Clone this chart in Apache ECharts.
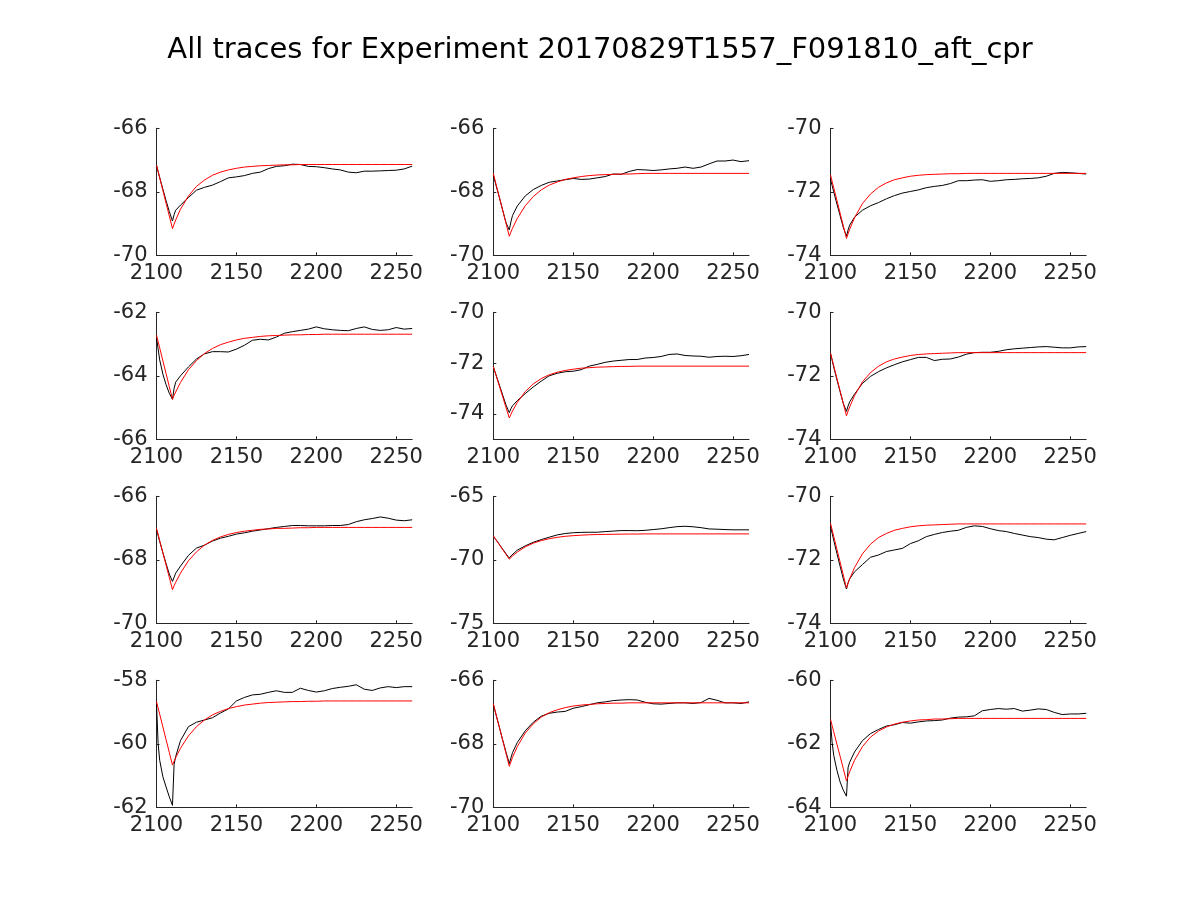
<!DOCTYPE html>
<html>
<head>
<meta charset="utf-8">
<script src="https://cdn.jsdelivr.net/npm/echarts@6/dist/echarts.min.js"></script>
<style>html,body{margin:0;padding:0;background:#fff;}#c{width:1200px;height:900px;}</style>
</head>
<body>
<div id="c"></div>
<script>
const titleText = "All traces for Experiment 20170829T1557_F091810_aft_cpr";
const xs = [2100, 2101, 2102, 2104, 2106, 2108, 2110, 2111, 2112, 2115, 2120, 2125, 2130, 2135, 2140, 2145, 2150, 2155, 2160, 2165, 2170, 2175, 2180, 2185, 2190, 2195, 2200, 2205, 2210, 2215, 2220, 2225, 2230, 2235, 2240, 2245, 2250, 2255, 2260];
const xTicks = [2100, 2150, 2200, 2250];

const black1 = [-67.16,-67.36,-67.55,-67.92,-68.28,-68.62,-68.92,-68.72,-68.58,-68.42,-68.18,-67.95,-67.86,-67.79,-67.68,-67.56,-67.53,-67.49,-67.42,-67.38,-67.27,-67.20,-67.18,-67.13,-67.14,-67.20,-67.21,-67.24,-67.28,-67.31,-67.38,-67.40,-67.35,-67.35,-67.34,-67.33,-67.32,-67.28,-67.19];
const red1 = [-67.16,-67.36,-67.56,-67.96,-68.36,-68.76,-69.16,-69.02,-68.89,-68.55,-68.13,-67.83,-67.63,-67.48,-67.38,-67.31,-67.26,-67.22,-67.20,-67.18,-67.17,-67.16,-67.15,-67.15,-67.14,-67.14,-67.14,-67.14,-67.14,-67.14,-67.14,-67.14,-67.14,-67.14,-67.14,-67.14,-67.14,-67.14,-67.14];

const black2 = [-67.47,-67.66,-67.85,-68.22,-68.60,-68.98,-69.20,-68.95,-68.75,-68.45,-68.13,-67.93,-67.80,-67.70,-67.66,-67.62,-67.58,-67.61,-67.60,-67.56,-67.52,-67.44,-67.45,-67.36,-67.30,-67.31,-67.33,-67.31,-67.28,-67.26,-67.22,-67.26,-67.22,-67.12,-67.03,-67.03,-67.00,-67.05,-67.02];
const red2 = [-67.42,-67.62,-67.82,-68.21,-68.61,-69.00,-69.40,-69.27,-69.15,-68.84,-68.44,-68.15,-67.94,-67.79,-67.69,-67.61,-67.56,-67.52,-67.49,-67.47,-67.46,-67.45,-67.44,-67.44,-67.43,-67.42,-67.42,-67.42,-67.42,-67.42,-67.42,-67.42,-67.42,-67.42,-67.42,-67.42,-67.42,-67.42,-67.42];

const black3 = [-71.60,-71.80,-72.00,-72.38,-72.75,-73.12,-73.40,-73.20,-73.05,-72.80,-72.58,-72.44,-72.34,-72.22,-72.12,-72.04,-71.99,-71.94,-71.87,-71.83,-71.80,-71.74,-71.65,-71.65,-71.63,-71.62,-71.67,-71.65,-71.62,-71.61,-71.59,-71.58,-71.56,-71.51,-71.42,-71.39,-71.40,-71.42,-71.44];
const red3 = [-71.47,-71.67,-71.87,-72.27,-72.67,-73.07,-73.47,-73.32,-73.18,-72.82,-72.37,-72.07,-71.86,-71.72,-71.62,-71.56,-71.51,-71.48,-71.46,-71.45,-71.44,-71.43,-71.43,-71.42,-71.42,-71.42,-71.42,-71.42,-71.42,-71.42,-71.42,-71.42,-71.42,-71.42,-71.42,-71.42,-71.42,-71.42,-71.42];

const black4 = [-62.80,-63.15,-63.50,-63.95,-64.28,-64.55,-64.74,-64.40,-64.20,-64.00,-63.72,-63.47,-63.31,-63.24,-63.24,-63.25,-63.16,-63.04,-62.88,-62.85,-62.87,-62.78,-62.66,-62.61,-62.57,-62.53,-62.46,-62.52,-62.55,-62.57,-62.58,-62.51,-62.46,-62.54,-62.57,-62.55,-62.48,-62.53,-62.51];
const red4 = [-62.72,-62.92,-63.12,-63.53,-63.93,-64.34,-64.74,-64.62,-64.51,-64.21,-63.81,-63.52,-63.30,-63.14,-63.02,-62.94,-62.87,-62.82,-62.79,-62.76,-62.74,-62.73,-62.72,-62.71,-62.71,-62.70,-62.70,-62.69,-62.69,-62.69,-62.69,-62.69,-62.69,-62.69,-62.69,-62.69,-62.69,-62.69,-62.69];

const black5 = [-72.14,-72.33,-72.52,-72.90,-73.28,-73.66,-73.95,-73.80,-73.68,-73.48,-73.20,-72.94,-72.71,-72.50,-72.40,-72.34,-72.32,-72.26,-72.12,-72.05,-71.97,-71.92,-71.89,-71.86,-71.86,-71.80,-71.78,-71.74,-71.66,-71.64,-71.70,-71.72,-71.73,-71.77,-71.74,-71.73,-71.74,-71.71,-71.66];
const red5 = [-72.14,-72.34,-72.54,-72.95,-73.35,-73.76,-74.16,-74.02,-73.89,-73.55,-73.12,-72.82,-72.61,-72.46,-72.36,-72.29,-72.24,-72.20,-72.18,-72.16,-72.15,-72.14,-72.13,-72.13,-72.12,-72.12,-72.12,-72.12,-72.12,-72.12,-72.12,-72.12,-72.12,-72.12,-72.12,-72.12,-72.12,-72.12,-72.12];

const black6 = [-71.29,-71.50,-71.72,-72.12,-72.50,-72.87,-73.12,-72.95,-72.82,-72.58,-72.24,-72.02,-71.87,-71.75,-71.65,-71.56,-71.49,-71.42,-71.42,-71.52,-71.48,-71.47,-71.41,-71.32,-71.27,-71.26,-71.26,-71.23,-71.18,-71.15,-71.13,-71.11,-71.09,-71.08,-71.10,-71.12,-71.12,-71.09,-71.08];
const red6 = [-71.29,-71.49,-71.68,-72.08,-72.47,-72.87,-73.26,-73.11,-72.98,-72.63,-72.19,-71.90,-71.70,-71.56,-71.47,-71.41,-71.36,-71.33,-71.31,-71.30,-71.29,-71.28,-71.27,-71.27,-71.27,-71.27,-71.27,-71.27,-71.27,-71.27,-71.27,-71.27,-71.27,-71.27,-71.27,-71.27,-71.27,-71.27,-71.27];

const black7 = [-67.05,-67.23,-67.42,-67.78,-68.12,-68.45,-68.68,-68.55,-68.42,-68.20,-67.86,-67.63,-67.54,-67.41,-67.32,-67.26,-67.19,-67.15,-67.10,-67.06,-67.02,-66.98,-66.95,-66.92,-66.92,-66.93,-66.93,-66.93,-66.92,-66.92,-66.89,-66.80,-66.74,-66.70,-66.65,-66.69,-66.75,-66.77,-66.74];
const red7 = [-67.01,-67.20,-67.40,-67.78,-68.17,-68.55,-68.94,-68.82,-68.71,-68.42,-68.03,-67.75,-67.54,-67.39,-67.28,-67.20,-67.14,-67.10,-67.07,-67.04,-67.03,-67.01,-67.01,-67.00,-66.99,-66.99,-66.98,-66.98,-66.98,-66.98,-66.98,-66.98,-66.98,-66.98,-66.98,-66.98,-66.98,-66.98,-66.98];

const black8 = [-68.12,-68.30,-68.47,-68.82,-69.18,-69.53,-69.88,-69.70,-69.55,-69.24,-68.90,-68.62,-68.41,-68.22,-68.04,-67.93,-67.87,-67.84,-67.83,-67.83,-67.78,-67.74,-67.70,-67.70,-67.71,-67.68,-67.62,-67.56,-67.47,-67.39,-67.36,-67.40,-67.47,-67.57,-67.59,-67.62,-67.64,-67.64,-67.64];
const red8 = [-68.12,-68.30,-68.49,-68.85,-69.22,-69.58,-69.95,-69.82,-69.70,-69.39,-68.98,-68.69,-68.49,-68.34,-68.23,-68.15,-68.10,-68.06,-68.03,-68.01,-68.00,-67.99,-67.98,-67.97,-67.97,-67.96,-67.96,-67.96,-67.96,-67.96,-67.96,-67.96,-67.96,-67.96,-67.96,-67.96,-67.96,-67.96,-67.96];

const black9 = [-70.95,-71.16,-71.38,-71.80,-72.20,-72.60,-72.92,-72.72,-72.60,-72.38,-72.15,-71.92,-71.85,-71.74,-71.69,-71.64,-71.49,-71.40,-71.27,-71.20,-71.14,-71.10,-71.07,-70.98,-70.93,-70.95,-71.02,-71.08,-71.11,-71.17,-71.22,-71.27,-71.30,-71.35,-71.37,-71.30,-71.23,-71.17,-71.11];
const red9 = [-70.85,-71.05,-71.26,-71.67,-72.07,-72.48,-72.89,-72.74,-72.60,-72.25,-71.81,-71.51,-71.30,-71.17,-71.07,-71.01,-70.96,-70.93,-70.91,-70.90,-70.89,-70.88,-70.87,-70.87,-70.87,-70.87,-70.87,-70.87,-70.87,-70.87,-70.87,-70.87,-70.87,-70.87,-70.87,-70.87,-70.87,-70.87,-70.87];

const black10 = [-58.73,-59.99,-60.52,-61.04,-61.36,-61.67,-61.94,-60.65,-60.40,-59.90,-59.46,-59.32,-59.25,-59.18,-59.03,-58.90,-58.65,-58.54,-58.46,-58.44,-58.38,-58.33,-58.38,-58.38,-58.25,-58.32,-58.37,-58.33,-58.26,-58.22,-58.19,-58.14,-58.28,-58.32,-58.24,-58.20,-58.23,-58.20,-58.20];
const red10 = [-58.67,-58.87,-59.07,-59.47,-59.87,-60.27,-60.67,-60.55,-60.44,-60.14,-59.75,-59.46,-59.25,-59.09,-58.98,-58.89,-58.83,-58.78,-58.75,-58.72,-58.70,-58.69,-58.68,-58.67,-58.67,-58.66,-58.66,-58.65,-58.65,-58.65,-58.65,-58.65,-58.65,-58.65,-58.65,-58.65,-58.65,-58.65,-58.65];

const black11 = [-66.75,-66.95,-67.14,-67.52,-67.90,-68.27,-68.62,-68.45,-68.28,-67.96,-67.59,-67.32,-67.13,-67.04,-67.00,-66.98,-66.88,-66.83,-66.77,-66.71,-66.68,-66.64,-66.62,-66.61,-66.62,-66.69,-66.74,-66.75,-66.73,-66.71,-66.71,-66.73,-66.70,-66.57,-66.63,-66.71,-66.71,-66.73,-66.68];
const red11 = [-66.73,-66.93,-67.13,-67.52,-67.92,-68.31,-68.71,-68.57,-68.43,-68.09,-67.66,-67.37,-67.16,-67.02,-66.93,-66.86,-66.81,-66.78,-66.76,-66.74,-66.73,-66.72,-66.72,-66.71,-66.71,-66.71,-66.71,-66.71,-66.71,-66.71,-66.71,-66.71,-66.71,-66.71,-66.71,-66.71,-66.71,-66.71,-66.71];

const black12 = [-61.31,-61.95,-62.36,-62.83,-63.20,-63.46,-63.65,-62.75,-62.58,-62.26,-61.90,-61.68,-61.55,-61.44,-61.40,-61.33,-61.35,-61.31,-61.28,-61.27,-61.25,-61.19,-61.16,-61.15,-61.12,-60.96,-60.92,-60.89,-60.91,-60.89,-60.97,-60.94,-60.90,-60.92,-61.01,-61.08,-61.06,-61.06,-61.04];
const red12 = [-61.23,-61.42,-61.62,-62.01,-62.39,-62.78,-63.17,-63.02,-62.88,-62.52,-62.09,-61.79,-61.60,-61.47,-61.38,-61.32,-61.28,-61.25,-61.24,-61.22,-61.22,-61.21,-61.20,-61.20,-61.20,-61.20,-61.20,-61.20,-61.20,-61.20,-61.20,-61.20,-61.20,-61.20,-61.20,-61.20,-61.20,-61.20,-61.20];

const yMins = [-70, -70, -74, -66, -75, -74, -70, -75, -74, -62, -70, -64];
const yMaxs = [-66, -66, -70, -62, -70, -70, -66, -65, -70, -58, -66, -60];
const yTicks = [
  [-70, -68, -66], [-70, -68, -66], [-74, -72, -70],
  [-66, -64, -62], [-74, -72, -70], [-74, -72, -70],
  [-70, -68, -66], [-75, -70, -65], [-74, -72, -70],
  [-62, -60, -58], [-70, -68, -66], [-64, -62, -60]
];

const blacks = [black1, black2, black3, black4, black5, black6, black7, black8, black9, black10, black11, black12];
const reds = [red1, red2, red3, red4, red5, red6, red7, red8, red9, red10, red11, red12];

const colLefts = [156.5, 493.3, 830.5];
const rowTops = [128.3, 312.3, 496.3, 680.3];
const gw = 255.7, gh = 127;
const axisColor = '#262626';
const fontFam = 'DejaVu Sans';
const fs = 21;
const plain = v => String(v);

const grids = [], xAxes = [], yAxes = [], series = [];
for (let i = 0; i < 12; i++) {
  const r = Math.floor(i / 3), c = i % 3;
  grids.push({left: colLefts[c], top: rowTops[r], width: gw, height: gh, containLabel: false});
  xAxes.push({
    type: 'value', gridIndex: i, min: 2100, max: 2260,
    axisLine: {show: true, onZero: false, lineStyle: {color: axisColor, width: 1}},
    axisTick: {show: true, inside: true, length: 3, customValues: xTicks, lineStyle: {color: axisColor}},
    axisLabel: {show: true, customValues: xTicks, formatter: plain, color: axisColor, fontFamily: fontFam, fontSize: fs, margin: 8},
    splitLine: {show: false}
  });
  yAxes.push({
    type: 'value', gridIndex: i, min: yMins[i], max: yMaxs[i],
    axisLine: {show: true, onZero: false, lineStyle: {color: axisColor, width: 1}},
    axisTick: {show: true, inside: true, length: 3, customValues: yTicks[i], lineStyle: {color: axisColor}},
    axisLabel: {show: true, customValues: yTicks[i], formatter: plain, color: axisColor, fontFamily: fontFam, fontSize: fs, margin: 9},
    splitLine: {show: false}
  });
  series.push({
    type: 'line', xAxisIndex: i, yAxisIndex: i, showSymbol: false, symbol: 'none',
    lineStyle: {color: '#000000', width: 1}, data: xs.map((x, j) => [x, blacks[i][j]]), z: 2, silent: true
  });
  series.push({
    type: 'line', xAxisIndex: i, yAxisIndex: i, showSymbol: false, symbol: 'none',
    lineStyle: {color: '#ff0000', width: 1}, data: xs.map((x, j) => [x, reds[i][j]]), z: 3, silent: true
  });
}

const chart = echarts.init(document.getElementById('c'), null, {renderer: 'canvas', width: 1200, height: 900});
chart.setOption({
  backgroundColor: '#ffffff',
  animation: false,
  title: {text: titleText, left: 'center', top: 31, textStyle: {fontFamily: fontFam, fontSize: 29, fontWeight: 'normal', color: '#000000'}},
  grid: grids, xAxis: xAxes, yAxis: yAxes, series: series
});
</script>
</body>
</html>
